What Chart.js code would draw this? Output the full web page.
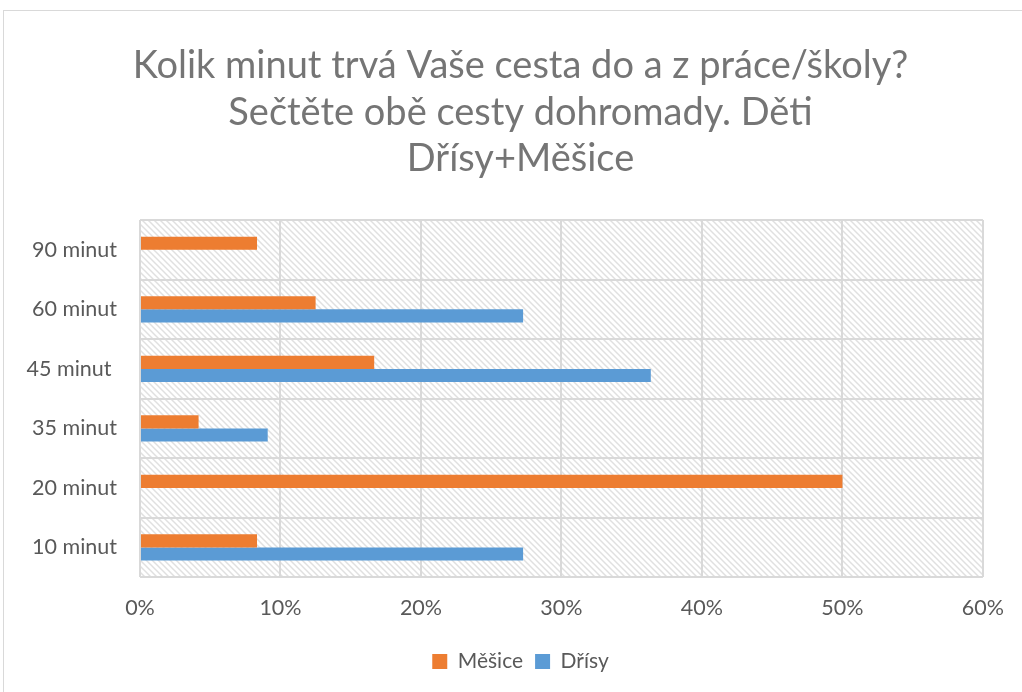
<!DOCTYPE html>
<html>
<head>
<meta charset="utf-8">
<script src="https://cdn.jsdelivr.net/npm/chart.js@4.4.1/dist/chart.umd.min.js"></script>
<style>
  html, body { margin: 0; padding: 0; background: #fff; overflow: hidden; }
  #frame { position: absolute; left: 3px; top: 10px; width: 1040px; height: 700px; border: 1px solid #d9d9d9; }
  #wrap { position: absolute; left: 0; top: 0; width: 1022px; height: 692px; }
</style>
</head>
<body>
<div id="frame"></div>
<div id="wrap"><canvas id="chart"></canvas></div>
<script>
const categories = ["90 minut", "60 minut", "45 minut ", "35 minut", "20 minut", "10 minut"];
const mesice = [8.33, 12.5, 16.67, 4.17, 50, 8.33];
const drisy = [0, 27.27, 36.36, 9.09, 0, 27.27];
const xTicks = [0, 10, 20, 30, 40, 50, 60];
const titleLines = ["Kolik minut trvá Vaše cesta do a z práce/školy?", "Sečtěte obě cesty dohromady. Děti", "Dřísy+Měšice"];

const textColor = "#595959";
const titleColor = "#757575";
const gridColor = "#d9d9d9";

// diagonal hatch for the plot area
function makeHatch() {
  const c = document.createElement("canvas");
  c.width = 6;
  c.height = 6;
  const g = c.getContext("2d");
  g.strokeStyle = "#e0e0e0";
  g.lineWidth = 1.5;
  g.beginPath();
  g.moveTo(-1, -1); g.lineTo(7, 7);
  g.moveTo(-4, 2); g.lineTo(2, 8);
  g.moveTo(2, -4); g.lineTo(8, 2);
  g.stroke();
  return g.createPattern(c, "repeat");
}

const hatchPlugin = {
  id: "hatch",
  beforeDraw(chart) {
    const { ctx, chartArea: a } = chart;
    ctx.save();
    ctx.fillStyle = makeHatch();
    ctx.fillRect(a.left, a.top, a.right - a.left, a.bottom - a.top);
    ctx.restore();
  },
};

// title and legend sit a bit right of the canvas centre, like the original
const shiftBlocks = {
  id: "shiftBlocks",
  afterLayout(chart) {
    [chart.titleBlock, chart.legend].forEach((b) => {
      if (!b) return;
      b.left += 27;
      b.right += 27;
    });
  },
};

new Chart(document.getElementById("chart"), {
  type: "bar",
  data: {
    labels: categories,
    datasets: [
      { label: "Měšice", data: mesice, backgroundColor: "#ed7d31" },
      { label: "Dřísy", data: drisy, backgroundColor: "#5b9bd5" },
    ],
  },
  options: {
    indexAxis: "y",
    responsive: true,
    maintainAspectRatio: false,
    animation: false,
    layout: { padding: { top: 10, right: 35, bottom: 10, left: 0 } },
    datasets: { bar: { categoryPercentage: 0.44, barPercentage: 1.0 } },
    scales: {
      x: {
        min: 0,
        max: 60,
        afterBuildTicks: (s) => { s.ticks = xTicks.map((v) => ({ value: v })); },
        ticks: { color: textColor, font: { family: "Lato", size: 21.5 }, padding: 18, callback: (v) => v + "%" },
        grid: { color: gridColor, lineWidth: 2, drawTicks: false },
        border: { display: false },
      },
      y: {
        afterFit: (s) => { s.width = 140; },
        ticks: { color: textColor, font: { family: "Lato", size: 21.5 }, padding: 23 },
        grid: { color: gridColor, lineWidth: 2, drawTicks: false },
        border: { display: false },
      },
    },
    plugins: {
      title: {
        display: true,
        text: titleLines,
        color: titleColor,
        font: { family: "Lato", size: 38, weight: "normal", lineHeight: 1.22 },
        padding: { top: 33, bottom: 38 },
      },
      legend: {
        position: "bottom",
        labels: { color: textColor, font: { family: "Lato", size: 21 }, boxWidth: 15, boxHeight: 15, padding: 12 },
      },
      tooltip: { enabled: false },
    },
  },
  plugins: [hatchPlugin, shiftBlocks],
});
</script>
</body>
</html>
